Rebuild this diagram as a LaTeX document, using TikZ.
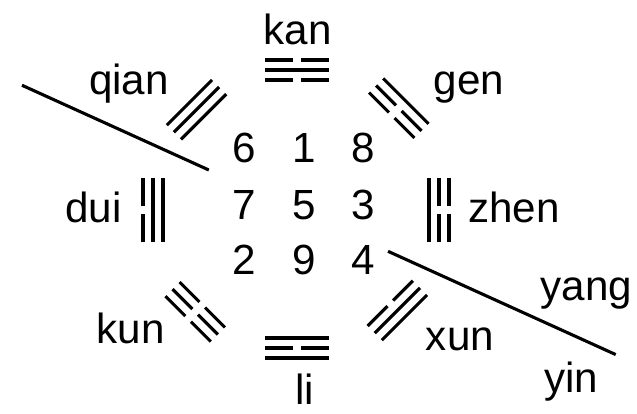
\documentclass[tikz,border=0pt]{standalone}
\usepackage{fontspec}
\setmainfont{Liberation Sans}
\usepackage{tikz}
\usetikzlibrary{positioning}

\tikzset{yaoline/.style={draw=black,line width=2.2pt}}

% one line of a trigram: #1 offset, #2 = 1 solid, 0 broken
\newcommand{\yao}[2]{%
  \ifnum#2=1
    \draw[yaoline] (-0.8,#1) -- (0.8,#1);
  \else
    \draw[yaoline] (-0.8,#1) -- (-0.1,#1) (0.1,#1) -- (0.8,#1);
  \fi}
% trigram at the named coordinate #1, direction #2, lines outer to inner
\newcommand{\trigram}[5]{%
  \begin{scope}[shift={(#1)},rotate=#2-90]
    \yao{0.25}{#3}\yao{0}{#4}\yao{-0.25}{#5}
  \end{scope}}

\begin{document}
\begin{tikzpicture}[font=\fontsize{30}{36}\selectfont]
        \useasboundingbox (-7.425,-5.075) rectangle (8.5,5.25);
        \begin{scope}[every node/.style={inner sep=0pt}]
          \node (6) at (-1.31,1.55) {6};
          \node (1) at (0.17,1.55) {1};
          \node (8) at (1.65,1.55) {8};
          \node (7) at (-1.31,0.125) {7};
          \node (5) at (0.17,0.125) {5};
          \node (3) at (1.65,0.125) {3};
          \node (2) at (-1.31,-1.25) {2};
          \node (9) at (0.17,-1.25) {9};
          \node (4) at (1.65,-1.25) {4};
        \end{scope}
        \coordinate (kan) at (90:3.5);
        \coordinate (gen) at (45:3.6);
        \coordinate (zhen) at (0:3.55);
        \coordinate (xun) at (-45:3.55);
        \coordinate (li) at (-90:3.45);
        \coordinate (kun) at (-135:3.6);
        \coordinate (dui) at (180:3.6);
        \coordinate (qian) at (135:3.55);
        \trigram{kan}{90}{0}{1}{0}
        \trigram{gen}{45}{1}{0}{0}
        \trigram{zhen}{0}{0}{0}{1}
        \trigram{xun}{-45}{1}{1}{0}
        \trigram{li}{-90}{1}{0}{1}
        \trigram{kun}{-135}{0}{0}{0}
        \trigram{dui}{180}{0}{1}{1}
        \trigram{qian}{135}{1}{1}{1}
        \begin{scope}[every node/.style={inner sep=0pt}]
          \node (kanname) at (0.0125,4.525) {kan};
          \node (genname) at (4.3,3.06) {gen};
          \node (zhenname) at (5.425,0.06) {zhen};
          \node (xunname) at (4.075,-3.24) {xun};
          \node (liname) at (0.2,-4.48) {li};
          \node (kunname) at (-4.16,-2.95) {kun};
          \node (duiname) at (-5.09,0.06) {dui};
          \node (qianname) at (-4.2,3.1625) {qian};
          \node (yangname) at (7.24,-2.09) {yang};
          \node (yinname) at (6.85,-4.3) {yin};
        \end{scope}
        \coordinate (yangout) at (155.6:7.55);
        \coordinate (yangin) at (155.6:2.42);
        \coordinate (yinin) at (-24.4:2.5);
        \coordinate (yinout) at (-24.4:8.75);
        \begin{scope}[every path/.style={draw=black,line width=2.2pt}]
          \path (yangout) -- (yangin);
          \path (yinin) -- (yinout);
        \end{scope}
\end{tikzpicture}
\end{document}
